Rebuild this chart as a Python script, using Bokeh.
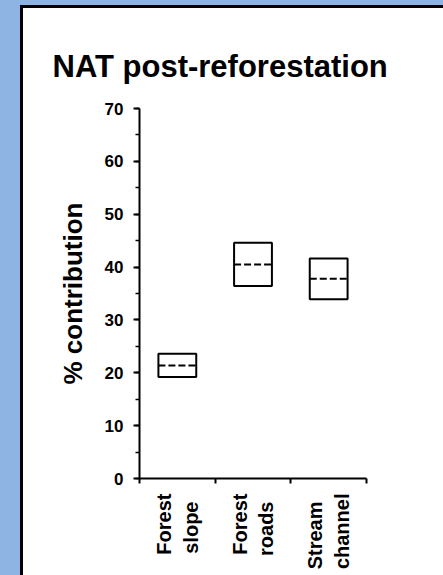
import math
from bokeh.plotting import figure
from bokeh.models import (Range1d, LinearAxis, SingleIntervalTicker, FixedTicker,
                          ColumnDataSource)
from bokeh.embed import file_html
from bokeh.resources import INLINE

# ---- data ----
categories = ["Forest\nslope", "Forest\nroads", "Stream\nchannel"]
box_low = [19.2, 36.4, 33.9]
box_high = [23.6, 44.6, 41.6]
box_mid = [21.4, 40.5, 37.8]
y_ticks_interval = 10
title_text = "NAT post-reforestation"
y_label = "% contribution"

FONT = "Liberation Sans"
BOX_W = 0.5
THIN = "\u2009"

n = len(categories)
centers = [i + 0.5 for i in range(n)]
src = ColumnDataSource(dict(x=centers, low=box_low, high=box_high, mid=box_mid,
                            x0=[c - BOX_W / 2 for c in centers],
                            x1=[c + BOX_W / 2 for c in centers]))

# pad the shorter line (at its end) so that both lines start at the same place
pad = {"slope": 2, "roads": 2, "Stream": 2}
def padded(label):
    return "\n".join(w + THIN * pad.get(w, 0) for w in label.split("\n"))

p = figure(width=443, height=575,
           x_range=Range1d(0, n),
           y_range=Range1d(0, 70),
           x_axis_location=None,
           output_backend="svg", toolbar_location=None,
           min_border_left=139, min_border_top=108,
           min_border_bottom=97, min_border_right=77,
           background_fill_color=None, border_fill_color=None)
p.margin = 0
p.styles = {"background-color": "white",
            "box-shadow": "inset 20px 5px 0 0 #8DB4E2, inset 23px 8px 0 0 #000000"}
p.outline_line_color = None
p.xgrid.visible = False
p.ygrid.visible = False

# boxes
p.vbar(x="x", bottom="low", top="high", width=BOX_W, source=src,
       fill_color="white", line_color="black", line_width=2)
# median dashed line
p.segment(x0="x0", x1="x1", y0="mid", y1="mid", source=src, line_color="black",
          line_width=2, line_dash="7 3")

# y axis
ya = p.yaxis[0]
ya.ticker = SingleIntervalTicker(interval=y_ticks_interval, num_minor_ticks=2)
ya.axis_line_width = 2
ya.major_tick_line_width = 2
ya.minor_tick_line_width = 1.5
ya.major_tick_out = 6
ya.major_tick_in = 0
ya.minor_tick_out = 4
ya.minor_tick_in = 0
ya.major_label_standoff = 10
ya.major_label_text_font = FONT
ya.major_label_text_font_style = "bold"
ya.major_label_text_font_size = "17px"
ya.major_label_text_color = "black"
ya.axis_label = y_label
ya.axis_label_text_font = FONT
ya.axis_label_text_font_style = "bold"
ya.axis_label_text_font_size = "26px"
ya.axis_label_text_color = "black"
ya.axis_label_standoff = 14

# x tick axis (ticks at category edges)
xt = LinearAxis(ticker=FixedTicker(ticks=list(range(n + 1))))
xt.axis_line_width = 2
xt.major_tick_line_width = 2
xt.major_tick_out = 5
xt.major_tick_in = 0
xt.minor_tick_line_color = None
xt.major_label_overrides = {i: " " for i in range(n + 1)}
xt.major_label_text_font_size = "1px"
xt.major_label_standoff = 0
p.add_layout(xt, "below")

# category labels
xc = LinearAxis(ticker=FixedTicker(ticks=centers))
xc.major_label_overrides = {c: padded(lab) for c, lab in zip(centers, categories)}
xc.axis_line_color = None
xc.major_tick_line_color = None
xc.minor_tick_line_color = None
xc.major_label_orientation = math.pi / 2
xc.major_label_standoff = 0
xc.major_label_text_font = FONT
xc.major_label_text_font_style = "bold"
xc.major_label_text_font_size = "20px"
xc.major_label_text_color = "black"
p.add_layout(xc, "below")

# title
p.title.text = title_text
p.title.text_font = FONT
p.title.text_font_style = "bold"
p.title.text_font_size = "31px"
p.title.text_color = "black"
p.title.align = "left"
p.title.offset = -87
p.title.standoff = 50

open("out.html", "w").write(file_html(p, INLINE))
